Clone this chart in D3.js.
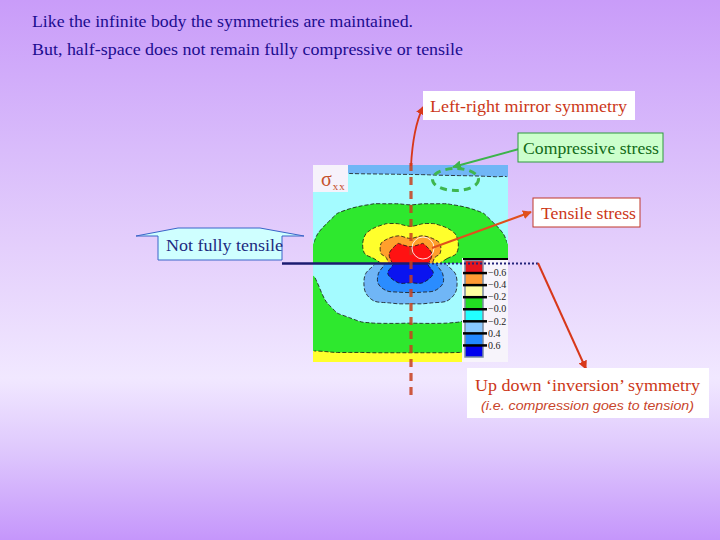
<!DOCTYPE html>
<html><head><meta charset="utf-8">
<script src="https://cdn.jsdelivr.net/npm/d3@7"></script>
<style>html,body{margin:0;padding:0;background:#fff;} svg{display:block;}</style>
</head><body>
<svg id="c" width="720" height="540"></svg>
<script>
// ================= DATA =================
const titleLines = ["Like the infinite body the symmetries are maintained.",
                    "But, half-space does not remain fully compressive or tensile"];
const thresholds = [-3, -2, -1, 0, 1, 2, 3];
const legendLabels = ["\u22120.6", "\u22120.4", "\u22120.2", "\u22120.0", "\u22120.2", "0.4", "0.6"];
const nCols = 17, nRows = 11;
// sigma_xx, upper half-space (top edge -> surface)
const upperField = [
  [-1.5,-1.5,-1.5,-1.5,-1.5,-1.5,-1.5,-1.5,-1.5,-1.5,-1.5,-1.5,-1.5,-1.5,-1.5,-1.5,-1.5],
  [-0.88,-0.89,-0.9,-0.92,-0.94,-0.95,-0.96,-0.97,-0.98,-0.99,-1.01,-1.02,-1.03,-1.04,-1.05,-1.06,-1.06],
  [-0.8,-0.75,-0.7,-0.65,-0.65,-0.65,-0.65,-0.65,-0.65,-0.65,-0.65,-0.65,-0.65,-0.65,-0.7,-0.75,-0.8],
  [-0.7,-0.55,-0.45,-0.35,-0.35,-0.3,-0.3,-0.3,-0.3,-0.3,-0.3,-0.3,-0.35,-0.35,-0.45,-0.55,-0.7],
  [-0.55,-0.4,-0.2,-0.12,-0.05,0.02,0.02,0.02,-0.02,0.02,0.02,0.02,-0.05,-0.12,-0.2,-0.4,-0.55],
  [-0.4,-0.2,0.02,0.15,0.3,0.4,0.5,0.5,0.4,0.5,0.5,0.4,0.3,0.15,0.02,-0.2,-0.4],
  [-0.25,-0.02,0.25,0.4,0.6,0.8,1.02,1.02,0.85,1.02,1.02,0.8,0.6,0.4,0.25,-0.02,-0.25],
  [-0.12,0.2,0.45,0.65,0.85,1.3,1.6,1.75,1.5,1.75,1.6,1.3,0.85,0.65,0.45,0.2,-0.12],
  [-0.01,0.35,0.6,0.8,0.95,1.6,2.3,3.05,2.6,3.05,2.3,1.6,0.95,0.8,0.6,0.35,-0.01],
  [0.15,0.45,0.65,0.8,0.9,1.3,2.5,4.5,4.0,4.5,2.5,1.3,0.9,0.8,0.65,0.45,0.15],
  [0.3,0.5,0.6,0.7,0.7,0.7,1.2,4.5,4.5,4.5,1.2,0.7,0.7,0.7,0.6,0.5,0.3]
];
// sigma_xx, lower half-space (surface -> bottom edge)
const lowerField = [
  [-0.2,-0.05,-0.1,-0.15,-0.3,-0.9,-2.2,-3.6,-4.5,-3.6,-2.2,-0.9,-0.3,-0.15,-0.1,-0.05,-0.2],
  [-0.05,-0.2,-0.35,-0.5,-0.75,-1.5,-2.85,-4.0,-3.5,-4.0,-2.85,-1.5,-0.75,-0.5,-0.35,-0.2,-0.05],
  [0.15,-0.25,-0.45,-0.6,-0.85,-1.7,-2.6,-2.95,-2.98,-2.95,-2.6,-1.7,-0.85,-0.6,-0.45,-0.25,0.15],
  [0.3,-0.12,-0.4,-0.55,-0.8,-1.4,-1.8,-1.9,-1.95,-1.9,-1.8,-1.4,-0.8,-0.55,-0.4,-0.12,0.3],
  [0.45,0.05,-0.25,-0.4,-0.6,-0.9,-0.98,-1.05,-1.05,-1.05,-0.98,-0.9,-0.6,-0.4,-0.25,0.05,0.45],
  [0.6,0.25,-0.01,-0.15,-0.3,-0.45,-0.5,-0.5,-0.5,-0.5,-0.5,-0.45,-0.3,-0.15,-0.01,0.25,0.6],
  [0.72,0.45,0.25,0.15,0.02,-0.02,-0.03,-0.03,-0.02,-0.03,-0.03,-0.02,0.02,0.15,0.25,0.45,0.72],
  [0.82,0.65,0.5,0.4,0.35,0.35,0.35,0.35,0.35,0.35,0.35,0.35,0.35,0.4,0.5,0.65,0.82],
  [0.92,0.85,0.75,0.7,0.7,0.7,0.7,0.7,0.7,0.7,0.7,0.7,0.7,0.7,0.75,0.85,0.92],
  [1.01,1.01,0.99,0.99,0.99,0.98,0.98,0.98,0.98,0.98,0.98,0.98,0.99,0.99,0.99,1.01,1.01],
  [1.3,1.3,1.3,1.3,1.3,1.3,1.3,1.3,1.3,1.3,1.3,1.3,1.3,1.3,1.3,1.3,1.3]
];

// ================= STYLE =================
const bandColors = ["#0a14f0","#2a8cff","#70b6f6","#a4fbff","#2ee82e","#ffff2c","#ff9f2c","#ff1212"]; // low -> high
const legendColors = ["#e8141e","#ff9a33","#ffffa0","#22dd22","#22ffff","#88c8ff","#2288ff","#0000ee"]; // top -> bottom
const serif = "'Liberation Serif','Times New Roman',serif";

const svg = d3.select("#c");
const defs = svg.append("defs");
const W = 720, H = 540;

// background
const bg = defs.append("linearGradient").attr("id","bg").attr("x1",0).attr("y1",0).attr("x2",0).attr("y2",1);
[[0,"#c99cf9"],[0.28,"#d9bcfb"],[0.46,"#e4cffc"],[0.7,"#f1e8ff"],[0.83,"#dfc9fd"],[1,"#c596fb"]]
  .forEach(([o,c]) => bg.append("stop").attr("offset",o).attr("stop-color",c));
svg.append("rect").attr("width",W).attr("height",H).attr("fill","url(#bg)");

// title
svg.append("g").selectAll("text").data(titleLines).join("text")
  .attr("x",32).attr("y",(d,i)=>27+i*28)
  .attr("font-family",serif).attr("font-size",16).attr("fill","#1c0c90")
  .attr("textLength",(d,i)=>i===0?381:431).attr("lengthAdjust","spacingAndGlyphs")
  .text(d=>d);

// ================= CONTOUR PLOT =================
const P = {x0:313, x1:508, y0:165, ym:263.5, y1:362};
const xs = d3.scaleLinear().domain([0,nCols-1]).range([P.x0,P.x1]);
const ysU = d3.scaleLinear().domain([0,nRows-1]).range([P.y0,P.ym]);
const ysL = d3.scaleLinear().domain([0,nRows-1]).range([P.ym,P.y1]);

// calibrate d3-contour sample position convention
const test = d3.contours().size([2,1]).thresholds([0.5])([0,1]);
let minX = Infinity;
test[0].coordinates.forEach(p=>p.forEach(r=>r.forEach(pt=>{ if(pt[0]<minX) minX=pt[0]; })));
const off = isFinite(minX) ? minX - 0.5 : 0.5;

const smoothLine = d3.line().curve(d3.curveCatmullRomClosed.alpha(0.5));
function contourPath(geom, ys) {
  let s = "";
  geom.coordinates.forEach(poly => poly.forEach(ring => {
    const pts = ring.slice(0, ring.length - 1).map(([x,y]) => [xs(x-off), ys(y-off)]);
    if (pts.length > 2) s += smoothLine(pts);
  }));
  return s;
}

function drawHalf(field, ys, id, ya, yb) {
  const cs = d3.contours().size([nCols,nRows]).thresholds(thresholds)(field.flat());
  defs.append("clipPath").attr("id",id).append("rect")
    .attr("x",P.x0).attr("y",ya).attr("width",P.x1-P.x0).attr("height",yb-ya);
  defs.append("clipPath").attr("id",id+"i").append("rect")
    .attr("x",P.x0+1.2).attr("y",ya+1.2).attr("width",P.x1-P.x0-2.4).attr("height",yb-ya-2.4);
  const g = svg.append("g").attr("clip-path",`url(#${id})`);
  g.append("rect").attr("x",P.x0).attr("y",ya).attr("width",P.x1-P.x0).attr("height",yb-ya).attr("fill",bandColors[0]);
  g.selectAll("path").data(cs).join("path").attr("d",d=>contourPath(d,ys))
    .attr("fill-rule","evenodd").attr("fill",(d,i)=>bandColors[i+1]);
  const gl = svg.append("g").attr("clip-path",`url(#${id}i)`);
  gl.selectAll("path").data(cs).join("path").attr("d",d=>contourPath(d,ys))
    .attr("fill","none").attr("stroke","#151515").attr("stroke-width",0.8).attr("stroke-dasharray","4,2");
}
drawHalf(upperField, ysU, "cu", P.y0, P.ym);
drawHalf(lowerField, ysL, "cl", P.ym, P.y1);

// sigma_xx label
svg.append("rect").attr("x",313).attr("y",165).attr("width",35).attr("height",27).attr("fill","#f6f2fb");
const sig = svg.append("text").attr("x",321).attr("y",186).attr("font-family",serif).attr("fill","#c4502c");
sig.append("tspan").attr("font-size",20).text("\u03c3");
sig.append("tspan").attr("font-size",11).attr("dy",4).attr("dx",1).attr("letter-spacing",1).text("xx");

// ================= LEGEND =================
const leg = svg.append("g");
leg.append("rect").attr("x",462).attr("y",258).attr("width",46).attr("height",104).attr("fill","#f7f4fb");
const yLeg = d3.scaleLinear().domain([0,legendColors.length]).range([260.5,357]);
leg.selectAll("rect.cell").data(legendColors).join("rect").attr("class","cell")
  .attr("x",465).attr("width",18).attr("y",(d,i)=>yLeg(i)).attr("height",(d,i)=>yLeg(i+1)-yLeg(i)).attr("fill",d=>d);
leg.append("rect").attr("x",465).attr("y",yLeg(0)).attr("width",18).attr("height",yLeg(8)-yLeg(0))
  .attr("fill","none").attr("stroke","#7a8aa0").attr("stroke-width",1.5);
const ax = leg.append("g").attr("transform","translate(463,0)")
  .call(d3.axisRight(yLeg).tickValues(d3.range(1,8)).tickFormat(i=>legendLabels[i-1]).tickSize(24).tickPadding(1));
ax.select(".domain").remove();
ax.selectAll("line").attr("stroke","#000").attr("stroke-width",2.5);
ax.selectAll("text").attr("font-family",serif).attr("font-size",10).attr("fill","#222");
leg.append("line").attr("x1",463).attr("x2",508).attr("y1",259).attr("y2",259).attr("stroke","#000").attr("stroke-width",2);

// ================= ANNOTATIONS =================
function marker(id,color){
  defs.append("marker").attr("id",id).attr("viewBox","0 0 10 10").attr("refX",9).attr("refY",5)
    .attr("markerWidth",4.5).attr("markerHeight",4.5).attr("orient","auto")
    .append("path").attr("d","M0,0L10,5L0,10z").attr("fill",color);
}
marker("mr","#d8381a"); marker("mg","#3cb44a"); marker("mo","#e0501c");

// surface line
svg.append("line").attr("x1",282).attr("x2",428).attr("y1",P.ym).attr("y2",P.ym).attr("stroke","#1b1b70").attr("stroke-width",2.5);
svg.append("line").attr("x1",428).attr("x2",538).attr("y1",P.ym).attr("y2",P.ym).attr("stroke","#23237a").attr("stroke-width",2).attr("stroke-dasharray","2,2");

// mirror axis
svg.append("line").attr("x1",411).attr("x2",411).attr("y1",163).attr("y2",396)
  .attr("stroke","#c8401e").attr("stroke-width",3.2).attr("stroke-dasharray","8,6").attr("opacity",0.85);

// highlights
svg.append("circle").attr("cx",423).attr("cy",248).attr("r",11).attr("fill","none").attr("stroke","#fff").attr("stroke-width",1).attr("opacity",0.85);
svg.append("ellipse").attr("cx",455.5).attr("cy",179.5).attr("rx",23).attr("ry",11).attr("fill","none")
  .attr("stroke","#3fb64f").attr("stroke-width",3).attr("stroke-dasharray","7,5");

// arrows
svg.append("path").attr("d","M411,166 Q413,128 423,107").attr("fill","none").attr("stroke","#d8381a").attr("stroke-width",1.8).attr("marker-end","url(#mr)");
svg.append("path").attr("d","M519,149 L453,167").attr("fill","none").attr("stroke","#3cb44a").attr("stroke-width",2).attr("marker-end","url(#mg)");
svg.append("path").attr("d","M432,248 L531,212").attr("fill","none").attr("stroke","#e0501c").attr("stroke-width",2).attr("marker-end","url(#mo)");
svg.append("path").attr("d","M538,263 L586,369").attr("fill","none").attr("stroke","#d8381a").attr("stroke-width",2).attr("marker-end","url(#mr)");

// text boxes
function box(x,y,w,h,fill,stroke){
  svg.append("rect").attr("x",x).attr("y",y).attr("width",w).attr("height",h).attr("fill",fill)
    .attr("stroke",stroke||"none").attr("stroke-width",1);
}
function label(x,y,t,color,len,opts={}){
  svg.append("text").attr("x",x).attr("y",y).attr("font-family",opts.family||serif).attr("font-size",opts.size||16)
    .attr("font-style",opts.style||"normal").attr("fill",color)
    .attr("textLength",len).attr("lengthAdjust","spacingAndGlyphs").text(t);
}
box(423,91,212,29,"#ffffff");
label(430,112,"Left-right mirror symmetry","#cc3718",197);
box(518,133,145,29,"#ccffcc","#2e9a3e");
label(523,154,"Compressive stress","#126a18",136);
box(533,198,107,29,"#ffffff","#c0392b");
label(541,219,"Tensile stress","#cc3718",95);
box(467,368,242,50,"#ffffff");
label(475,391,"Up down \u2018inversion\u2019 symmetry","#cc3718",225);
label(481,410,"(i.e. compression goes to tension)","#c8442a",213,{family:"'Liberation Sans',Arial,sans-serif",size:13,style:"italic"});

// not fully tensile callout
svg.append("path").attr("d","M158,260 L158,236 L136,236 L178,228 L260,228 L304,236 L282,236 L282,260 Z")
  .attr("fill","#cfffff").attr("stroke","#3a64c8").attr("stroke-width",1);
label(166,251,"Not fully tensile","#202a80",117);
</script>
</body></html>
